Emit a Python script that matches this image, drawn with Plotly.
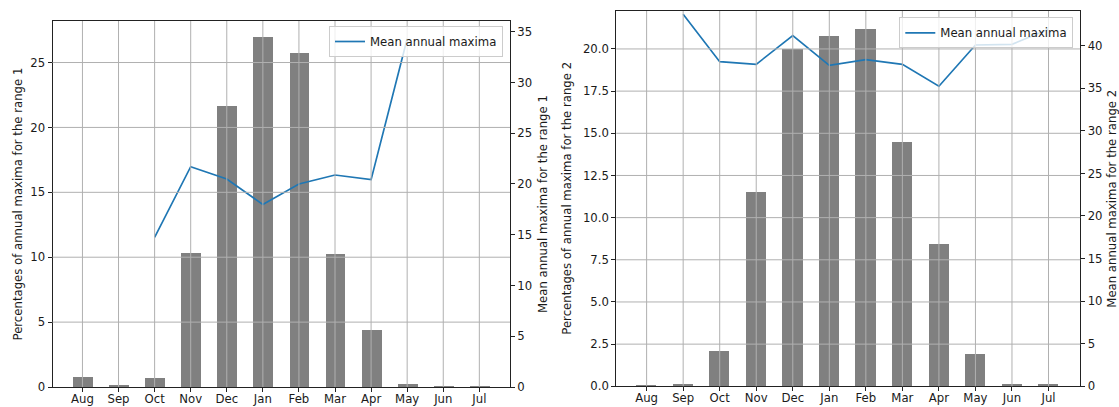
import plotly.graph_objects as go

months = ["Aug", "Sep", "Oct", "Nov", "Dec", "Jan", "Feb", "Mar", "Apr", "May", "Jun", "Jul"]

pct_range1 = [0.75, 0.08, 0.67, 10.3, 21.66, 26.93, 25.75, 10.23, 4.37, 0.2, 0.05, 0.05]
mean_range1 = [None, None, 14.74, 21.7, 20.49, 17.98, 19.99, 20.88, 20.42, 34.3, None, None]

pct_range2 = [0.05, 0.14, 2.09, 11.5, 19.98, 20.79, 21.2, 14.5, 8.46, 1.89, 0.14, 0.14]
mean_range2 = [None, 43.7, 38.12, 37.81, 41.17, 37.69, 38.36, 37.81, 35.23, 40.08, 40.16, 41.92]

left_ticks1 = [0, 5, 10, 15, 20, 25]
right_ticks1 = [0, 5, 10, 15, 20, 25, 30, 35]
left_ticks2 = [0, 2.5, 5, 7.5, 10, 12.5, 15, 17.5, 20]
left_ticktext2 = ["0.0", "2.5", "5.0", "7.5", "10.0", "12.5", "15.0", "17.5", "20.0"]
right_ticks2 = [0, 5, 10, 15, 20, 25, 30, 35, 40]

W, H = 1119, 407
FONT = "DejaVu Sans"
FS = 11.7
TXT = "#1a1a1a"
GRID = "#b0b0b0"
BAR = "#808080"
LINE = "#1f77b4"

fig = go.Figure()

fig.add_trace(go.Bar(x=months, y=pct_range1, width=0.55, marker=dict(color=BAR, line=dict(width=0)),
                     xaxis="x", yaxis="y", showlegend=False))
fig.add_trace(go.Scatter(x=months, y=mean_range1, mode="lines", line=dict(color=LINE, width=1.7),
                         name="Mean annual maxima", xaxis="x", yaxis="y2", legend="legend"))
fig.add_trace(go.Bar(x=months, y=pct_range2, width=0.55, marker=dict(color=BAR, line=dict(width=0)),
                     xaxis="x2", yaxis="y3", showlegend=False))
fig.add_trace(go.Scatter(x=months, y=mean_range2, mode="lines", line=dict(color=LINE, width=1.7),
                         name="Mean annual maxima", xaxis="x2", yaxis="y4", legend="legend2"))

def px_x(v):
    return v / W

def px_y(v):
    return 1 - v / H

dom1x = [px_x(52.5), px_x(510)]
dom1y = [px_y(387), px_y(21)]
dom2x = [px_x(616.3), px_x(1080.3)]
dom2y = [px_y(386.3), px_y(11)]

axis_common = dict(showgrid=False, zeroline=False, showline=True, linecolor="#222", linewidth=1,
                   ticks="outside", ticklen=4, tickwidth=1, tickcolor="#222", automargin=False,
                   tickfont=dict(family=FONT, size=FS, color=TXT))

fig.update_layout(
    template="none",
    width=W, height=H, autosize=False,
    margin=dict(l=0, r=0, t=0, b=0, pad=0),
    paper_bgcolor="white", plot_bgcolor="white",
    font=dict(family=FONT, size=FS, color=TXT),
    xaxis=dict(domain=dom1x, anchor="y", type="category", range=[-0.83, 11.85], mirror=True,
               ticklabelstandoff=-3, **axis_common),
    yaxis=dict(domain=dom1y, anchor="x", range=[0, 28.2], tickvals=left_ticks1, **axis_common),
    yaxis2=dict(overlaying="y", side="right", anchor="x", range=[0, 36.05], tickvals=right_ticks1, **axis_common),
    xaxis2=dict(domain=dom2x, anchor="y3", type="category", range=[-0.83, 11.87], mirror=True,
                ticklabelstandoff=-3, **axis_common),
    yaxis3=dict(domain=dom2y, anchor="x2", range=[0, 22.25], tickvals=left_ticks2, ticktext=left_ticktext2, **axis_common),
    yaxis4=dict(overlaying="y3", side="right", anchor="x2", range=[0, 44.07], tickvals=right_ticks2, **axis_common),
    legend=dict(x=px_x(503), y=px_y(26), xanchor="right", yanchor="top",
                bgcolor="rgba(255,255,255,0.8)", bordercolor="#cccccc", borderwidth=1,
                font=dict(family=FONT, size=FS, color=TXT), itemwidth=30),
    legend2=dict(x=px_x(1073.3), y=px_y(17.3), xanchor="right", yanchor="top",
                 bgcolor="rgba(255,255,255,0.8)", bordercolor="#cccccc", borderwidth=1,
                 font=dict(family=FONT, size=FS, color=TXT), itemwidth=30),
    bargap=0,
)

# Grid lines drawn on top of the bars (as in the reference)
shapes = []
for xr, yr, yt in (("x", "y", left_ticks1), ("x2", "y3", left_ticks2)):
    for m in months:
        shapes.append(dict(type="line", xref=xr, yref=yr + " domain", x0=m, x1=m, y0=0, y1=1,
                           line=dict(color=GRID, width=1), layer="above"))
    for t in yt:
        if t == 0:
            continue
        shapes.append(dict(type="line", xref=xr + " domain", yref=yr, x0=0, x1=1, y0=t, y1=t,
                           line=dict(color=GRID, width=1), layer="above"))
fig.update_layout(shapes=shapes)

titles = [
    ("Percentages of annual maxima for the range 1", 17.5, 204),
    ("Mean annual maxima for the range 1", 543, 204),
    ("Percentages of annual maxima for the range 2", 567, 198.7),
    ("Mean annual maxima for the range 2", 1112, 198.7),
]
for text, xp, yp in titles:
    fig.add_annotation(text=text, x=px_x(xp), y=px_y(yp), xref="paper", yref="paper",
                       xanchor="center", yanchor="middle", textangle=-90, showarrow=False,
                       font=dict(family=FONT, size=FS, color=TXT))

fig.write_html("out.html", config={"displayModeBar": False},
               post_script="document.body.style.margin='0';document.body.style.overflow='hidden';")
